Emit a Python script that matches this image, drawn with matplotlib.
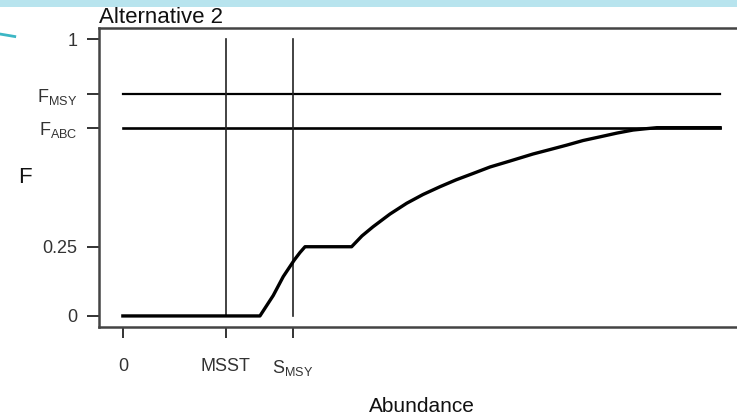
# harvest control rule, alternative 2
import matplotlib
matplotlib.use('Agg')
import matplotlib.pyplot as plt
from matplotlib.patches import Rectangle

plt.rcParams['font.family'] = ['Liberation Sans', 'DejaVu Sans']
plt.rcParams['mathtext.fontset'] = 'custom'
plt.rcParams['mathtext.rm'] = 'Liberation Sans'
plt.rcParams['mathtext.it'] = 'Liberation Sans'

# reference levels
f_msy = 0.80
f_abc = 0.68
msst = 0.1725
s_msy = 0.285

# control rule curve
abund = [0.0, 0.2295, 0.2518, 0.2685, 0.287, 0.2965, 0.305,
         0.383, 0.4003, 0.4188, 0.4472, 0.4752, 0.5025, 0.531, 0.5578,
         0.5868, 0.6147, 0.6482, 0.6868, 0.7152, 0.7432, 0.7705, 0.799,
         0.8275, 0.8543, 0.8744, 0.894, 1.0]
fval = [0.0, 0.0, 0.074, 0.142, 0.202, 0.229, 0.25,
        0.25, 0.289, 0.322, 0.368, 0.407, 0.4386, 0.4668, 0.4915,
        0.515, 0.538, 0.5596, 0.585, 0.601, 0.617, 0.6336, 0.647,
        0.6606, 0.6715, 0.676, 0.68, 0.68]

ytick_pos = [0, 0.25, f_abc, f_msy, 1]
ytick_lab = ['0', '0.25', r'F$_{\mathrm{ABC}}$', r'F$_{\mathrm{MSY}}$', '1']
xtick_pos = [0, msst, s_msy]
xtick_lab = ['0', 'MSST', r'S$_{\mathrm{MSY}}$']

fig = plt.figure(figsize=(7.37, 4.15), dpi=100)
fig.patch.set_facecolor('white')

# slide decoration: light blue band at the top, teal stroke at the left
fig.patches.append(Rectangle((0, 0.982), 1, 0.018, transform=fig.transFigure,
                             facecolor='#b8e4ee', edgecolor='none'))
fig.lines.append(plt.Line2D([0, 0.02], [0.918, 0.912], transform=fig.transFigure,
                            color='#3cb6c4', lw=2))

ax = fig.add_axes([0.1343, 0.212, 0.8752, 0.7205])

ax.plot([0, 1], [f_msy, f_msy], color='black', lw=1.6)
ax.plot([0, 1], [f_abc, f_abc], color='black', lw=1.9)
ax.plot([msst, msst], [0, 1], color='#222222', lw=1.2)
ax.plot([s_msy, s_msy], [0, 1], color='#222222', lw=1.2)
ax.plot(abund, fval, color='black', lw=2.4, solid_joinstyle='round')

ax.set_xlim(-0.04, 1.04)
ax.set_ylim(-0.04, 1.04)

ax.set_yticks(ytick_pos)
ax.set_yticklabels(ytick_lab)
ax.set_xticks(xtick_pos)
ax.set_xticklabels(xtick_lab)
ax.tick_params(axis='y', length=8.6, width=1.4, pad=7, labelsize=13, colors='#333333')
ax.tick_params(axis='x', length=8, width=1.4, pad=14, labelsize=13, colors='#333333')

for s in ax.spines.values():
    s.set_linewidth(1.8)
    s.set_color('#444444')

ax.set_title('Alternative 2', loc='left', fontsize=16, pad=1, color='#111111')
ax.set_xlabel('Abundance', fontsize=15, color='#111111')
ax.xaxis.set_label_coords(0.5, -0.235)
ax.set_ylabel('F', fontsize=16, rotation=0, ha='center', va='center', color='#111111')
ax.yaxis.set_label_coords(-0.115, 0.5)

fig.savefig('out.png', dpi=100)
